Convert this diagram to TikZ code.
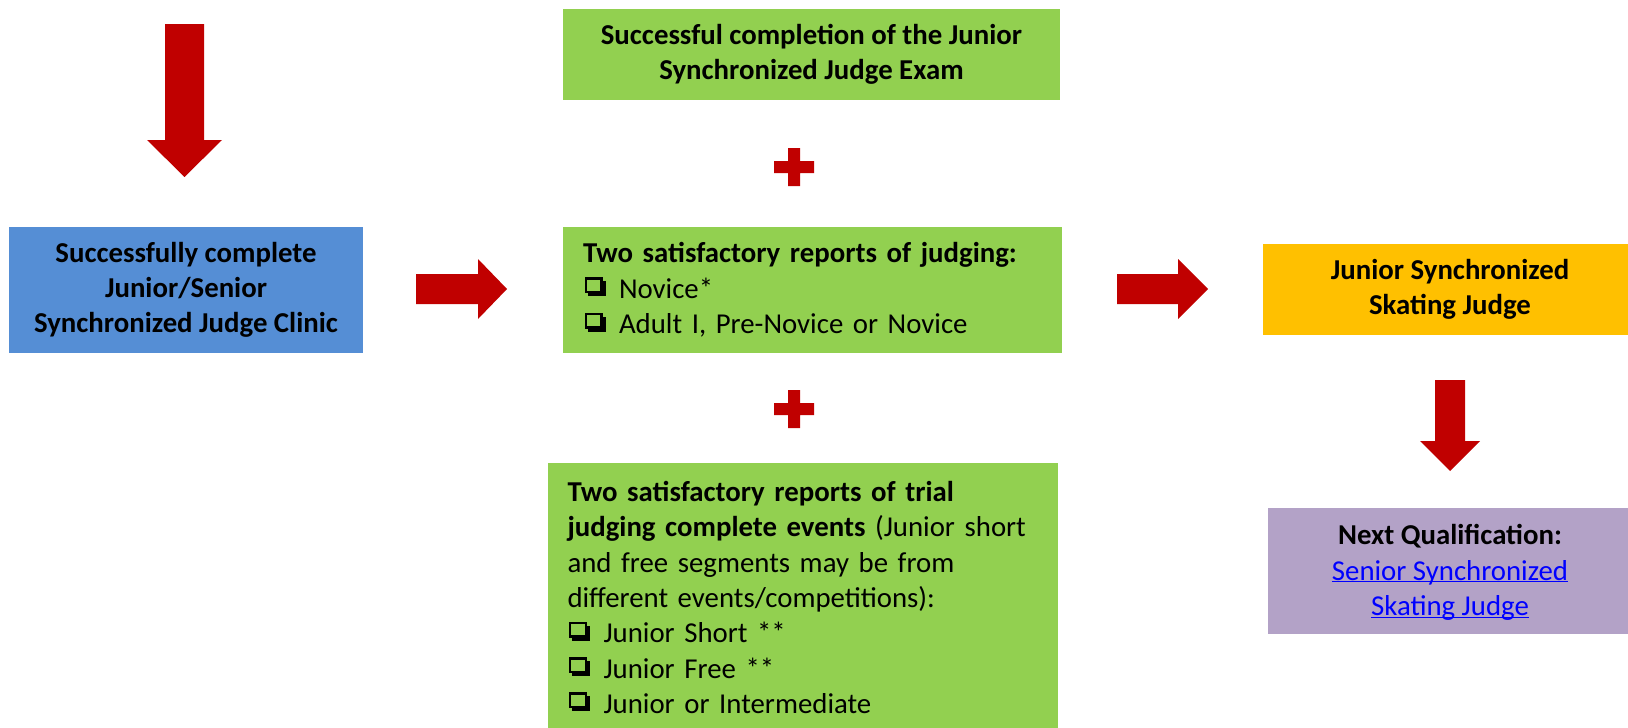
\documentclass[tikz,border=0pt]{standalone}
\usepackage{fontspec}
\setmainfont{Carlito}
\definecolor{clinicblue}{HTML}{558ED5}
\definecolor{reqgreen}{HTML}{92D050}
\definecolor{judgeorange}{HTML}{FFC000}
\definecolor{nextpurple}{HTML}{B3A2C7}
\definecolor{arrowred}{HTML}{C00000}
\definecolor{linkblue}{HTML}{0000FF}
\newcommand{\cbx}{\makebox[36pt][l]{\hspace{1.5pt}\tikz[x=1pt,y=1pt,baseline=0pt]{\draw[black,line width=2.4pt] (1.2,6.2) rectangle (16.8,19.8); \fill[black] (3,2) rectangle (21,5.2); \fill[black] (17.8,2) rectangle (21,17);}}}
\newcommand{\lnk}[1]{\textcolor{linkblue}{\underline{\smash{#1}}}}
\begin{document}
\begin{tikzpicture}[x=1pt,y=-1pt,
  box/.style={rectangle, inner sep=0pt, text=black, font=\fontsize{28.8}{35.3}\selectfont},
  boldbox/.style={box, font=\fontsize{28.8}{35.3}\selectfont\bfseries},
  redshape/.style={fill=arrowred}]
\useasboundingbox (0,0) rectangle (1628,728);
\clip (0,0) rectangle (1628,728);
\fill[white] (0,0) rectangle (1628,728);

\node[boldbox, fill=clinicblue, minimum width=354pt, minimum height=126pt, align=center] (clinic) at (186,290)
  {Successfully complete\\Junior/Senior\\Synchronized Judge Clinic};

\node[boldbox, fill=reqgreen, minimum width=497pt, minimum height=91pt, align=center] (exam) at (811.5,54.5)
  {Successful completion of the Junior\\Synchronized Judge Exam};

\node[box, fill=reqgreen, minimum width=499pt, minimum height=126pt, text width=459pt, align=left, inner xsep=20pt] (reports) at (812.5,290)
  {\textbf{Two satisfactory reports of judging:}\\\cbx Novice*\\\cbx Adult I, Pre-Novice or Novice};

\node[box, fill=reqgreen, minimum width=499pt, minimum height=269pt, text width=470pt, align=left, inner xsep=20pt] (trial) at (802.5,597.5)
  {\textbf{Two satisfactory reports of trial}\\\textbf{judging complete events} (Junior short\\and free segments may be from\\different events/competitions):\\\cbx Junior Short **\\\cbx Junior Free **\\\cbx Junior or Intermediate};

\node[boldbox, fill=judgeorange, minimum width=374pt, minimum height=91pt, align=center] (judge) at (1450,289.5)
  {Junior Synchronized\\Skating Judge};

\node[box, fill=nextpurple, minimum width=364pt, minimum height=126pt, align=center] (next) at (1450,571)
  {\textbf{Next Qualification:}\\\lnk{Senior Synchronized}\\\lnk{Skating Judge}};

% block arrows
\fill[redshape] (165,24) -- (204,24) -- (204,140) -- (222,140) -- (184.5,177) -- (147,140) -- (165,140) -- cycle;
\fill[redshape] (416,274) -- (478,274) -- (478,259) -- (507,289) -- (478,319) -- (478,304) -- (416,304) -- cycle;
\fill[redshape] (1117,274) -- (1178,274) -- (1178,259) -- (1208,289) -- (1178,319) -- (1178,304) -- (1117,304) -- cycle;
\fill[redshape] (1435,380) -- (1465,380) -- (1465,441) -- (1480,441) -- (1450,471) -- (1420,441) -- (1435,441) -- cycle;

% plus signs
\foreach \cy in {167,409}{
  \fill[redshape] (788,\cy-19) -- (800,\cy-19) -- (800,\cy-6) -- (814,\cy-6) -- (814,\cy+6) -- (800,\cy+6) -- (800,\cy+19) -- (788,\cy+19) -- (788,\cy+6) -- (774,\cy+6) -- (774,\cy-6) -- (788,\cy-6) -- cycle;
}
\end{tikzpicture}
\end{document}
